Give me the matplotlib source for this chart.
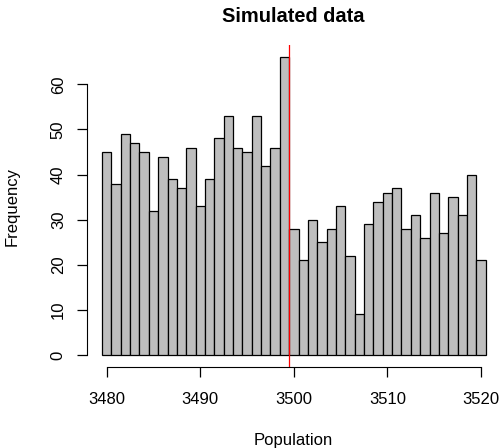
import numpy as np
import matplotlib
matplotlib.use('Agg')
import matplotlib.pyplot as plt

# frequency per integer population value, 3480..3520
population = np.arange(3480, 3521)
counts = [45, 38, 49, 47, 45, 32, 44, 39, 37, 46,
          33, 39, 48, 53, 46, 45, 53, 42, 46, 66,
          28, 21, 30, 25, 28, 33, 22, 9, 29, 34,
          36, 37, 28, 31, 26, 36, 27, 35, 31, 40,
          21]
true_value = 3499.5
xticks = [3480, 3490, 3500, 3510, 3520]
yticks = [0, 10, 20, 30, 40, 50, 60]

plt.rcParams['font.family'] = ['Liberation Sans', 'DejaVu Sans']

fig = plt.figure(figsize=[5.02, 4.48], dpi=100)
ax = fig.add_axes([0.1727, 0.181, 0.998 - 0.1727, 0.8987 - 0.181])

ax.bar(population, counts, width=1.0, color='#bebebe', edgecolor='black', linewidth=0.9)
ax.axvline(true_value, color='red', linewidth=0.9)

lo, hi = population[0] - 0.5, population[-1] + 0.5
pad = (hi - lo) * 0.04
ax.set_xlim(lo - pad, hi + pad)
ytop = max(counts)
ax.set_ylim(-ytop * 0.04, ytop * 1.04)

for s in ['top', 'right']:
    ax.spines[s].set_visible(False)
ax.spines['bottom'].set_bounds(xticks[0], xticks[-1])
ax.spines['left'].set_bounds(yticks[0], yticks[-1])
ax.set_xticks(xticks)
ax.set_yticks(yticks)
ax.tick_params(direction='out', length=7, width=0.9, labelsize=12)
ax.tick_params(axis='x', pad=11)
ax.tick_params(axis='y', pad=8)
for lab in ax.get_yticklabels():
    lab.set_rotation(90)
    lab.set_va('center')

fig.text(0.585, 1 - 440 / 448, 'Population', ha='center', va='center', fontsize=12)
fig.text(12 / 502, 0.54, 'Frequency', ha='center', va='center', rotation=90, fontsize=12)
fig.text(0.585, 1 - 16 / 448, 'Simulated data', ha='center', va='center', fontsize=14.4, fontweight='bold')

fig.savefig('out.png', dpi=100)
